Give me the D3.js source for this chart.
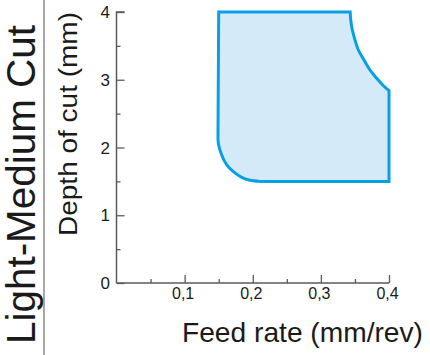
<!DOCTYPE html>
<html><head><meta charset="utf-8">
<script src="https://cdn.jsdelivr.net/npm/d3@7"></script>
<style>body{margin:0;background:#fff}svg{display:block}</style>
</head><body>
<script>
// Recommended working region outline (feed mm/rev, depth mm), in four pieces
const leftEdgeFeed    = [0.343, 0.15, 0.149];
const leftEdgeDepth   = [4.0, 4.0, 2.21];
const cornerFeed      = [0.149, 0.1495, 0.1544, 0.1618, 0.1715, 0.1838, 0.196, 0.2106];
const cornerDepth     = [2.21, 2.06, 1.889, 1.742, 1.643, 1.560, 1.516, 1.50];
const bottomEdgeFeed  = [0.2106, 0.40, 0.40];
const bottomEdgeDepth = [1.50, 1.50, 2.838];
const shoulderFeed    = [0.40, 0.3907, 0.3819, 0.3721, 0.3633, 0.3550, 0.3501, 0.3462, 0.3440, 0.343];
const shoulderDepth   = [2.838, 2.923, 3.021, 3.144, 3.291, 3.439, 3.587, 3.734, 3.87, 4.0];
const xTicks = [0.1, 0.2, 0.3, 0.4];
const xTickLabels = ["0,1", "0,2", "0,3", "0,4"];
const xMinorTicks = [0.05, 0.15, 0.25, 0.35];
const yTicks = [0, 1, 2, 3, 4];
const yMinorTicks = [0.5, 1.5, 2.5, 3.5];
const sideTitle = "Light-Medium Cut";
const xTitle = "Feed rate (mm/rev)";
const yTitle = "Depth of cut (mm)";

const W = 430, H = 355;
const svg = d3.select("body").append("svg").attr("width", W).attr("height", H);
const font = "Liberation Sans, Arial, Helvetica, sans-serif";

const x = d3.scaleLinear().domain([0, 0.4]).range([116.5, 389]);
const y = d3.scaleLinear().domain([0, 4]).range([283, 12]);
const axisColor = "#5a5a5a";

// divider
svg.append("line").attr("x1", 44).attr("x2", 44).attr("y1", 0).attr("y2", H)
  .attr("stroke", "#8a8a8a").attr("stroke-width", 1.5);

// side title
svg.append("text").attr("transform", "translate(35,344) rotate(-90)")
  .attr("font-family", font).attr("font-size", 40).attr("fill", "#1a1a1a")
  .attr("textLength", 319).attr("lengthAdjust", "spacingAndGlyphs")
  .text(sideTitle);

// region outline
const zip = (fs, ds) => fs.map((f, i) => [f, ds[i]]);
const straight = d3.line().x(d => x(d[0])).y(d => y(d[1])).curve(d3.curveLinear);
const smooth = d3.line().x(d => x(d[0])).y(d => y(d[1])).curve(d3.curveCatmullRom.alpha(0.5));
const pieces = [
  straight(zip(leftEdgeFeed, leftEdgeDepth)),
  smooth(zip(cornerFeed, cornerDepth)),
  straight(zip(bottomEdgeFeed, bottomEdgeDepth)),
  smooth(zip(shoulderFeed, shoulderDepth))
];
const d = pieces.map((p, i) => i === 0 ? p : p.replace(/^M/, "L")).join("") + "Z";
svg.append("path").attr("d", d)
  .attr("fill", "#d5eaf8").attr("stroke", "#08a0e4").attr("stroke-width", 3)
  .attr("stroke-linejoin", "miter");

// axes
const gy = svg.append("g").attr("transform", `translate(${x(0)},0)`)
  .call(d3.axisRight(y).tickValues(yTicks).tickSize(8).tickFormat(""));
svg.append("g").attr("transform", `translate(${x(0)},0)`)
  .call(d3.axisRight(y).tickValues(yMinorTicks).tickSize(4).tickFormat(""))
  .select(".domain").remove();
const gx = svg.append("g").attr("transform", `translate(0,${y(0)})`)
  .call(d3.axisTop(x).tickValues(xTicks).tickSize(8).tickFormat(""));
svg.append("g").attr("transform", `translate(0,${y(0)})`)
  .call(d3.axisTop(x).tickValues(xMinorTicks).tickSize(4).tickFormat(""))
  .select(".domain").remove();
svg.selectAll(".domain").attr("stroke", axisColor).attr("stroke-width", 1.5);
svg.selectAll(".tick line").attr("stroke", axisColor).attr("stroke-width", 1.3);
gy.select(".domain").attr("d", `M8,${y(4)}H0V${y(0)}`);
gx.select(".domain").attr("d", `M${x(0)},0H${x(0.4)}`);

// tick labels
svg.append("g").selectAll("text").data(yTicks).join("text")
  .attr("x", 110).attr("y", v => y(v)).attr("dy", "0.36em")
  .attr("text-anchor", "end").attr("font-family", font).attr("font-size", 17)
  .attr("fill", "#1a1a1a").text(v => v);
svg.append("g").selectAll("text").data(xTicks).join("text")
  .attr("x", v => x(v) - 1.5).attr("y", 299)
  .attr("text-anchor", "middle").attr("font-family", font).attr("font-size", 16)
  .attr("fill", "#1a1a1a").text((v, i) => xTickLabels[i]);

// axis titles
svg.append("text").attr("x", 182).attr("y", 342)
  .attr("font-family", font).attr("font-size", 28).attr("fill", "#1a1a1a")
  .attr("textLength", 241).attr("lengthAdjust", "spacingAndGlyphs")
  .text(xTitle);
svg.append("text").attr("transform", "translate(77,236) rotate(-90)")
  .attr("font-family", font).attr("font-size", 26).attr("fill", "#1a1a1a")
  .attr("textLength", 224).attr("lengthAdjust", "spacingAndGlyphs")
  .text(yTitle);
</script>
</body></html>
